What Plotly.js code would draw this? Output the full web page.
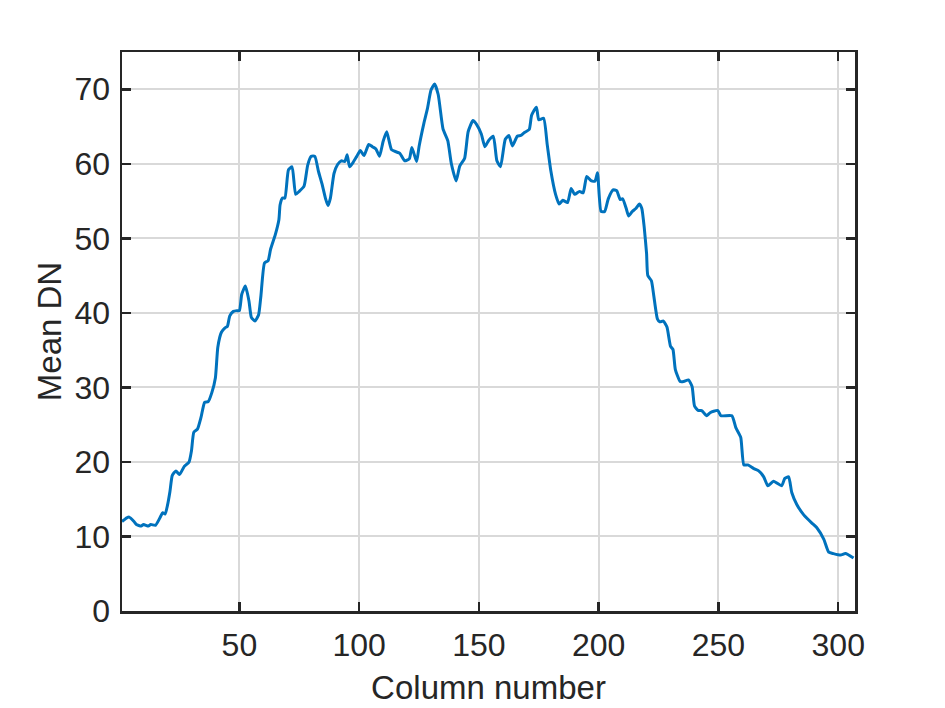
<!DOCTYPE html>
<html>
<head>
<meta charset="utf-8">
<script src="https://cdn.plot.ly/plotly-3.0.1.min.js"></script>
<style>html,body{margin:0;padding:0;background:#fff;}#chart{width:945px;height:708px;}</style>
</head>
<body>
<div id="chart"></div>
<script>
const columns = [1,3,4,6,7,9,10,12,13,15,17,18,19,20,21,22,23.5,25,27,29,30,31,32.5,34,35.5,37,38.5,40,41,42.5,44,45,46,47.5,49,50,51,52.5,54,55,56.5,58,59,60.5,62,63,65,66.5,67,68,69,70.5,72,73.5,75,77,78.5,80,81.5,83,84.5,86,87,88,89.5,91,92.5,94,95,96,97.5,99,100.5,102,104,105.5,107,108.5,110,111.5,113.5,115.5,117,119,121,122,124,125,127,128.5,130,131.5,133,135,137,138.5,140.5,142,144,145.5,147.5,149,151,152.5,154,156,157.5,159,161,162.5,164,166,167.5,169,171,172,174,175,177,178.5,180,182,183.5,185,187,188.5,190,192,193.5,195,197,198.5,199.5,201,202.5,204,206,207.5,209,210,211.5,212.5,214,215.5,217,218,219,220,220.5,222,223,224.5,225.5,227,228.5,230,231,232,234,235.5,237.5,239,240,241.5,243,245,246.5,248,249.75,251,255.6,257.25,259.3,260.6,262.25,264.75,266.8,268.9,270.6,273,276.4,277.7,279.3,280.6,282.7,285.6,289,291,294,296,298,301,303,306.4];
const meanDN = [12.0,12.5,12.6,12.0,11.6,11.4,11.6,11.4,11.6,11.5,12.6,13.2,13.0,14.2,16.0,18.2,18.8,18.3,19.4,20.0,21.5,24.0,24.4,26.0,28.0,28.1,29.3,31.3,35.4,37.4,38.0,38.2,39.6,40.2,40.3,40.3,42.5,43.6,41.6,39.4,38.9,39.7,42.3,46.7,47.0,48.5,50.5,52.5,54.5,55.4,55.4,59.2,59.6,55.9,56.3,57.0,59.8,61.0,61.0,59.0,57.3,55.3,54.4,55.4,58.7,59.9,60.4,60.3,61.2,59.6,60.2,61.0,61.8,61.1,62.6,62.3,62.0,61.0,63.0,64.3,61.9,61.6,61.4,60.4,60.7,62.2,60.3,62.3,65.4,67.4,69.9,70.7,69.3,64.7,63.1,60.0,57.7,59.7,60.7,64.3,65.8,65.3,64.0,62.3,63.1,63.7,60.4,59.6,63.3,63.8,62.4,63.7,63.8,64.2,64.6,66.5,67.6,65.9,66.1,62.6,59.1,55.9,54.6,55.1,54.8,56.7,55.9,56.3,56.1,58.3,57.7,57.7,58.8,53.6,53.6,55.3,56.5,56.4,55.2,55.3,54.0,53.0,53.6,54.0,54.6,54.0,51.5,47.9,45.0,44.3,42.3,39.2,38.8,38.9,38.1,35.5,35.1,32.4,30.8,30.8,31.0,30.1,27.5,26.9,26.9,26.2,26.6,26.8,26.9,26.2,26.2,24.6,23.3,19.6,19.6,19.1,18.8,18.0,16.8,17.4,16.8,17.8,18.0,15.9,14.3,12.9,11.8,11.2,9.6,7.9,7.7,7.5,7.7,7.1];
const xTicks = [50,100,150,200,250,300];
const yTicks = [0,10,20,30,40,50,60,70];

const fontFamily = 'Liberation Sans, Arial, sans-serif';
const axisCommon = {
  showline: true, linecolor: '#262626', linewidth: 2.5, mirror: 'ticks',
  ticks: 'inside', ticklen: 9, tickwidth: 2.5, tickcolor: '#262626',
  showgrid: true, gridcolor: '#d9d9d9', gridwidth: 2, zeroline: false,
  tickfont: {family: fontFamily, size: 32, color: '#262626'}
};

const trace = {
  x: columns, y: meanDN, type: 'scatter', mode: 'lines',
  line: {color: '#0072BD', width: 3, shape: 'spline', smoothing: 0.5}, hoverinfo: 'skip'
};

const layout = {
  width: 945, height: 708,
  margin: {l: 122, r: 90, t: 52, b: 97},
  paper_bgcolor: '#ffffff', plot_bgcolor: '#ffffff',
  showlegend: false,
  xaxis: Object.assign({}, axisCommon, {
    range: [1, 307], tickvals: xTicks, ticktext: xTicks.map(String),
    ticklabelstandoff: 4,
    title: {text: 'Column number', standoff: 14, font: {family: fontFamily, size: 33, color: '#262626'}}
  }),
  yaxis: Object.assign({}, axisCommon, {
    range: [0, 75], tickvals: yTicks, ticktext: yTicks.map(String),
    ticklabelstandoff: 3,
    title: {text: 'Mean DN', standoff: 3, font: {family: fontFamily, size: 33, color: '#262626'}}
  })
};

Plotly.newPlot('chart', [trace], layout, {staticPlot: true, displayModeBar: false});
</script>
</body>
</html>
